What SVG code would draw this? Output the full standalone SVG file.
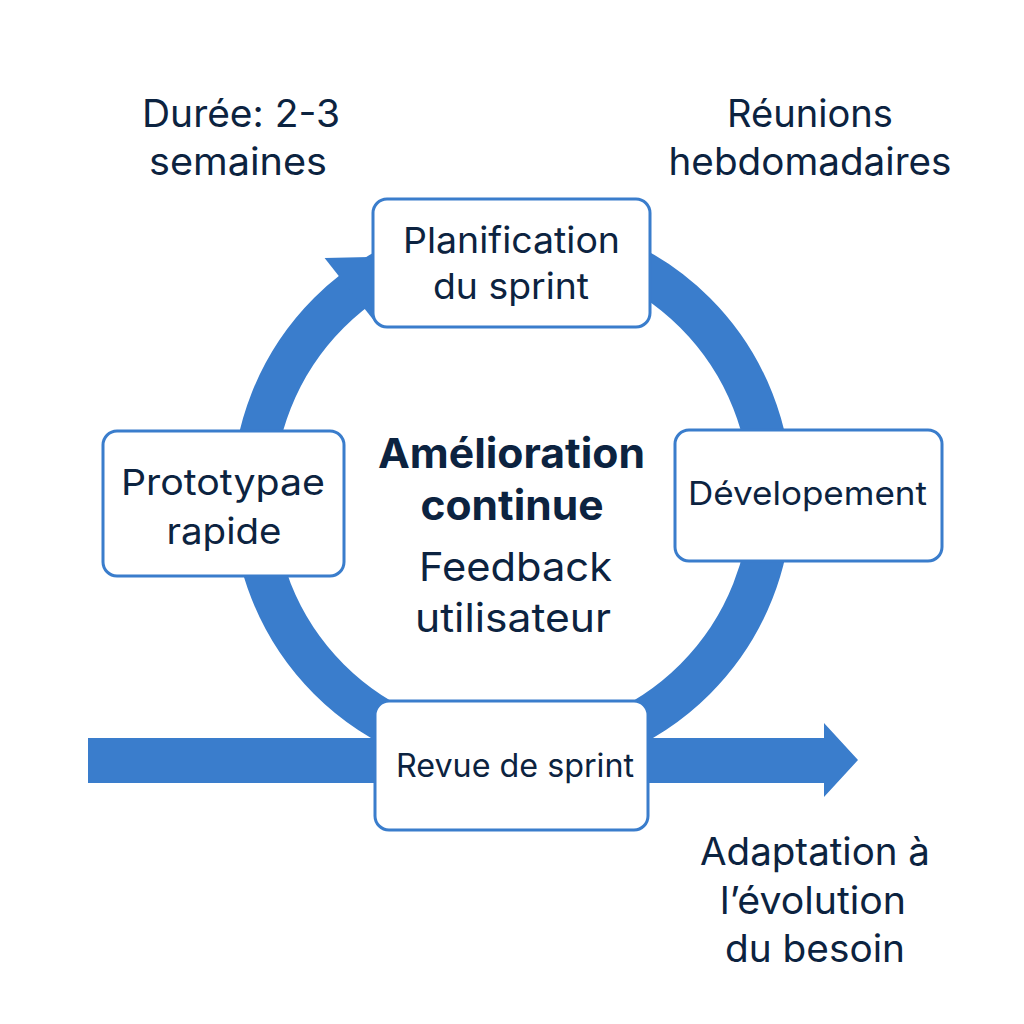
<svg xmlns="http://www.w3.org/2000/svg" width="1024" height="1024" viewBox="0 0 1024 1024">
<style>
.t{font-family:Inter,"Noto Sans","Liberation Sans",sans-serif;fill:#0c2340;text-anchor:middle}
.box{fill:#ffffff;stroke:#3a7dcc;stroke-width:3}
.flow{fill:#3a7dcc}
</style>
<rect width="1024" height="1024" fill="#ffffff"/>
<g id="connectors">
<circle cx="512" cy="496" r="259" fill="none" stroke="#3a7dcc" stroke-width="42"/>
<polygon class="flow" points="324.6,257.9 415,256 377.2,324.7"/>
<polygon class="flow" points="88,738 824,738 824,723 858,760 824,797 824,783 88,783"/>
</g>
<g id="label-duree">
<text class="t" x="241" y="127" font-size="38" textLength="198" lengthAdjust="spacingAndGlyphs">Durée: 2-3</text>
<text class="t" x="238" y="175" font-size="38" textLength="178" lengthAdjust="spacingAndGlyphs">semaines</text>
</g>
<g id="label-reunions">
<text class="t" x="810" y="127" font-size="38" textLength="166" lengthAdjust="spacingAndGlyphs">Réunions</text>
<text class="t" x="810" y="175" font-size="38" textLength="283" lengthAdjust="spacingAndGlyphs">hebdomadaires</text>
</g>
<g id="node-planification">
<rect class="box" x="373" y="199" width="277" height="128" rx="14"/>
<text class="t" x="511.5" y="253" font-size="36" textLength="217" lengthAdjust="spacingAndGlyphs">Planification</text>
<text class="t" x="511" y="299" font-size="36" textLength="156" lengthAdjust="spacingAndGlyphs">du sprint</text>
</g>
<g id="node-prototypage">
<rect class="box" x="103" y="431" width="241" height="145" rx="14"/>
<text class="t" x="223" y="495" font-size="36" textLength="204" lengthAdjust="spacingAndGlyphs">Prototypae</text>
<text class="t" x="224" y="544" font-size="36" textLength="115" lengthAdjust="spacingAndGlyphs">rapide</text>
</g>
<g id="node-developpement">
<rect class="box" x="675" y="430" width="267" height="131" rx="14"/>
<text class="t" x="807.5" y="505" font-size="33" textLength="239" lengthAdjust="spacingAndGlyphs">Dévelopement</text>
</g>
<g id="node-revue">
<rect class="box" x="375" y="701" width="273" height="129" rx="14"/>
<text class="t" x="515" y="777" font-size="32" textLength="238" lengthAdjust="spacingAndGlyphs">Revue de sprint</text>
</g>
<g id="center-label">
<text class="t" x="511.5" y="468" font-size="41" font-weight="700" textLength="267" lengthAdjust="spacingAndGlyphs">Amélioration</text>
<text class="t" x="512" y="520" font-size="41" font-weight="700" textLength="183" lengthAdjust="spacingAndGlyphs">continue</text>
<text class="t" x="515.5" y="581" font-size="40" textLength="193" lengthAdjust="spacingAndGlyphs">Feedback</text>
<text class="t" x="513" y="632" font-size="40" textLength="196" lengthAdjust="spacingAndGlyphs">utilisateur</text>
</g>
<g id="label-adaptation">
<text class="t" x="815" y="865" font-size="38" textLength="230" lengthAdjust="spacingAndGlyphs">Adaptation à</text>
<text class="t" x="813" y="914" font-size="38" textLength="186" lengthAdjust="spacingAndGlyphs">l’évolution</text>
<text class="t" x="815" y="962" font-size="38" textLength="180" lengthAdjust="spacingAndGlyphs">du besoin</text>
</g>
</svg>
